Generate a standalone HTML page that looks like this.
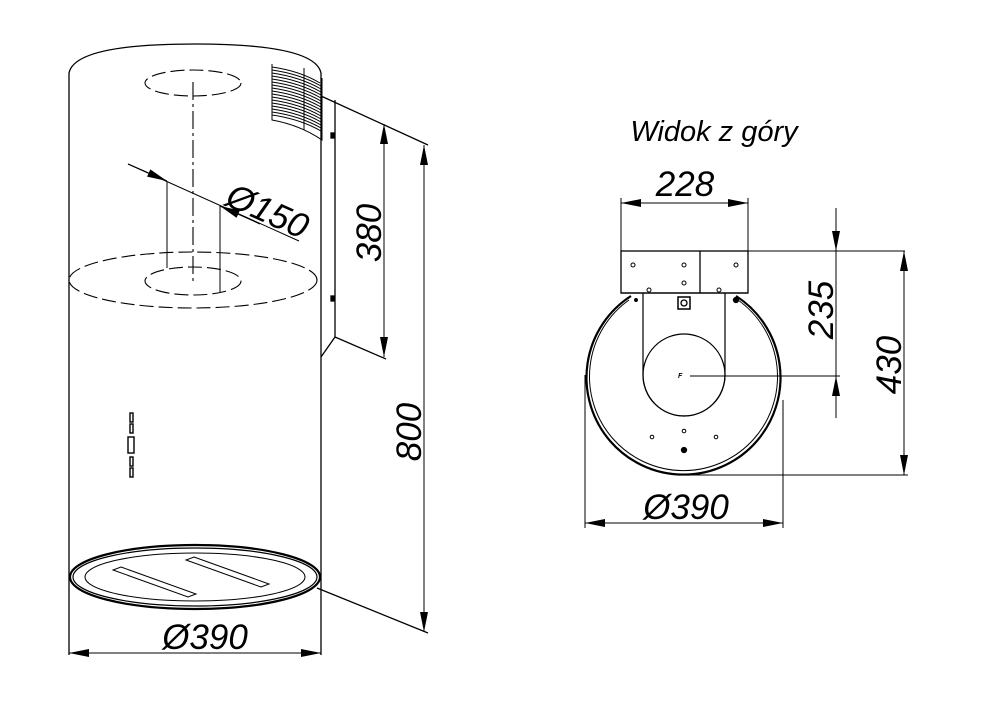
<!DOCTYPE html>
<html><head><meta charset="utf-8"><style>
html,body{margin:0;padding:0;background:#fff}
svg{display:block}
text{font-family:"Liberation Sans",sans-serif;font-style:italic;fill:#000}
</style></head><body>
<svg width="988" height="716" viewBox="0 0 988 716" xmlns="http://www.w3.org/2000/svg">
<defs>
<marker id="a" viewBox="0 0 20 8" refX="20" refY="4" markerWidth="20" markerHeight="8" markerUnits="userSpaceOnUse" orient="auto-start-reverse"><path d="M0,0 L20,4 L0,8 Z" fill="#000"/></marker>
</defs>
<g fill="none" stroke="#000" stroke-width="1.3">
<path d="M69,655 L69,73 Q75,44 195,44 Q315,44 321,73 L321,655"/>
<g stroke-dasharray="14,5" stroke-width="1.1">
<ellipse cx="193" cy="83" rx="48" ry="13"/>
<ellipse cx="193" cy="280" rx="124" ry="28"/>
<ellipse cx="193" cy="281" rx="48" ry="14"/>
<path d="M193,82 L193,283" stroke-dasharray="18,4,3,4"/>
</g>
<path d="M128,164 L299,241" stroke-width="1"/>
<path d="M167,182 L167,268 M220,206 L220,292" stroke-width="1"/>
<path d="M128,164 L167,181" marker-end="url(#a)" stroke-width="1"/>
<path d="M260,224 L220,206" marker-end="url(#a)" stroke-width="1"/>
<g stroke-width="1">
<path d="M272,64 L272,120 Q300,125 322,140 L322,78"/>
<path d="M304,68 L304,130"/>
<path d="M272,67 Q300,71 320,83 M272,70 Q300,74 321,86 M272,73 Q300,77 321,89 M272,76 Q300,80 321,92 M272,79 Q300,83 321,95 M272,82 Q300,86 321,98 M272,85 Q300,89 321,101 M272,88 Q300,92 321,104 M272,91 Q300,95 321,107 M272,94 Q300,98 321,110 M272,97 Q300,101 321,113 M272,100 Q300,104 321,116 M272,103 Q300,107 321,119 M272,106 Q300,110 321,122 M272,109 Q300,113 321,125 M272,112 Q300,116 321,128 M272,115 Q300,119 321,131"/>
</g>
<path d="M335,100 L335,337 L321,357 M335,337 L386,359"/>
<path d="M321,96 L428,145"/>
<path d="M317,588 L428,633"/>
<rect x="331" y="133" width="3" height="5" fill="#000"/>
<rect x="331" y="296" width="3" height="5" fill="#000"/>
<path d="M384,146 L384,124" marker-end="url(#a)" stroke-width="1"/>
<path d="M384,124 L384,357" marker-end="url(#a)" stroke-width="1"/>
<path d="M424,145 L424,632" marker-start="url(#a)" marker-end="url(#a)" stroke-width="1"/>
<path d="M69,653 L321,653" marker-start="url(#a)" marker-end="url(#a)" stroke-width="1"/>
<g stroke-width="1.4">
<rect x="130" y="413" width="3" height="9"/><rect x="130" y="424" width="3" height="9"/>
<rect x="128" y="437" width="6" height="16"/>
<rect x="130" y="457" width="3" height="9"/><rect x="130" y="468" width="3" height="9"/>
</g>
<ellipse cx="195" cy="577" rx="125" ry="32" stroke-width="2.2"/>
<ellipse cx="195" cy="577" rx="122" ry="29" stroke-width="1.2"/>
<ellipse cx="195" cy="577" rx="110" ry="24" stroke-width="1"/>
<path d="M121,567 L196,594 L188,597 L113,570 Z M194,557 L269,584 L261,587 L186,560 Z" stroke-width="1"/>

<rect x="621" y="251" width="127" height="42"/>
<path d="M700,251 L700,293"/>
<path d="M631,296 A97,97 0 1 0 736,296" stroke-width="2.2"/>
<path d="M629,300 A94,94 0 1 0 738,300" stroke-width="1"/>
<path d="M621,293 L748,293"/>
<path d="M643,293 L643,375 A41,41 0 0 0 725,375 L725,293" stroke-width="1.2"/>
<circle cx="684" cy="375" r="41" stroke-width="1.2"/>
<rect x="678" y="297" width="12" height="12" stroke-width="1.5"/>
<circle cx="684" cy="303" r="3"/>
<g stroke-width="1">
<circle cx="633" cy="265" r="2"/><circle cx="684" cy="265" r="2"/><circle cx="736" cy="265" r="2"/>
<circle cx="684" cy="283" r="2"/><circle cx="649" cy="290" r="2"/><circle cx="719" cy="290" r="2"/>
<circle cx="652" cy="437" r="1.8"/><circle cx="684" cy="431" r="1.8"/><circle cx="716" cy="437" r="1.8"/>
</g>
<circle cx="684" cy="450" r="2.5" fill="#000"/>
<circle cx="736" cy="300" r="2.5" fill="#000"/>
<circle cx="636" cy="300" r="1.3" fill="#000"/>
<path d="M690,376 L840,376" stroke-width="1"/>
<path d="M748,251 L905,251 M684,475 L908,475" stroke-width="1"/>
<path d="M621,198 L621,251 M748,198 L748,251" stroke-width="1"/>
<path d="M585,375 L585,528 M783,400 L783,528" stroke-width="1"/>
<path d="M621,203 L748,203" marker-start="url(#a)" marker-end="url(#a)" stroke-width="1"/>
<path d="M836,208 L836,251" marker-end="url(#a)" stroke-width="1"/>
<path d="M836,418 L836,376" marker-end="url(#a)" stroke-width="1"/>
<path d="M836,251 L836,376" stroke-width="1"/>
<path d="M904,251 L904,475" marker-start="url(#a)" marker-end="url(#a)" stroke-width="1"/>
<path d="M585,523 L783,523" marker-start="url(#a)" marker-end="url(#a)" stroke-width="1"/>
</g>
<text x="678" y="378" font-size="7" font-style="normal" font-weight="bold">F</text>
<text x="268" y="223" font-size="35" transform="rotate(24 268 210)" text-anchor="middle">Ø150</text>
<text x="381" y="233" font-size="35" transform="rotate(-90 381 233)" text-anchor="middle">380</text>
<text x="421" y="432" font-size="35" transform="rotate(-90 421 432)" text-anchor="middle">800</text>
<text x="205" y="649" font-size="35" text-anchor="middle">Ø390</text>
<text x="714" y="141" font-size="29" text-anchor="middle">Widok z góry</text>
<text x="685" y="196" font-size="35" text-anchor="middle">228</text>
<text x="833" y="310" font-size="35" transform="rotate(-90 833 310)" text-anchor="middle">235</text>
<text x="901" y="365" font-size="35" transform="rotate(-90 901 365)" text-anchor="middle">430</text>
<text x="686" y="519" font-size="35" text-anchor="middle">Ø390</text>
</svg>
</body></html>
